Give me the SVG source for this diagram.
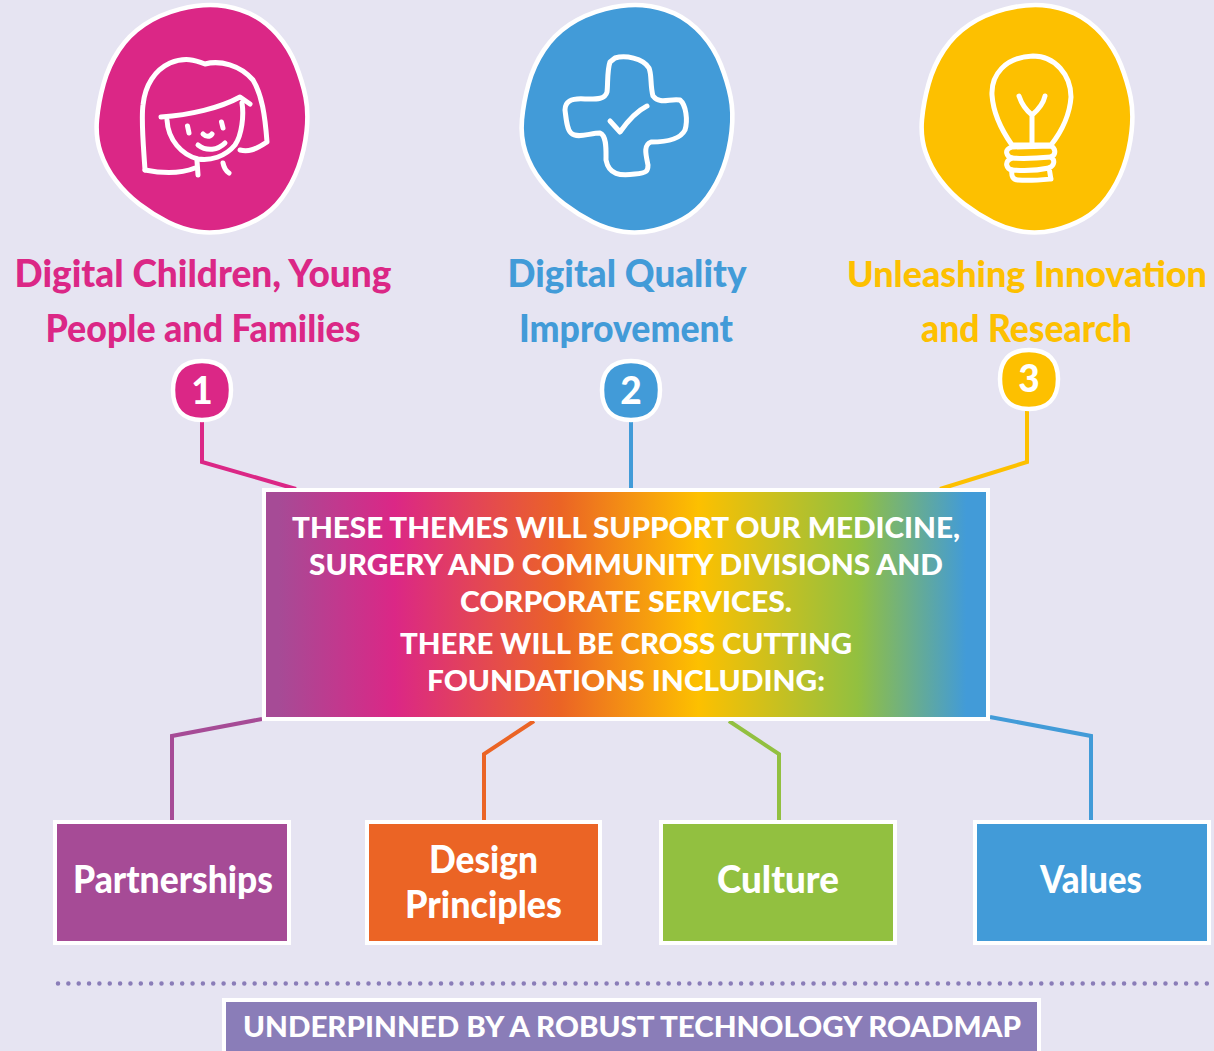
<svg xmlns="http://www.w3.org/2000/svg" width="1214" height="1051" viewBox="0 0 1214 1051">
<style>
.t{font-family:Lato,"Liberation Sans",sans-serif;font-weight:900;text-anchor:middle}
.h{font-size:37px}
.c{font-size:29px;fill:#fff}
.n{font-size:37px;fill:#fff}
.b{font-size:37px;fill:#fff}
.ic{fill:none;stroke:#fff;stroke-width:5;stroke-linecap:round;stroke-linejoin:round}
.con{fill:none;stroke-width:4}
.box{stroke:#fff;stroke-width:4}
.blob{stroke:#fff;stroke-width:4.500}
</style>
<defs>
<linearGradient id="g" x1="0" y1="0" x2="1" y2="0">
<stop offset="0.02" stop-color="#A64B96"/><stop offset="0.18" stop-color="#DB2786"/><stop offset="0.41" stop-color="#EB6425"/><stop offset="0.6" stop-color="#FDC000"/><stop offset="0.82" stop-color="#92C040"/><stop offset="0.97" stop-color="#429BD8"/>
</linearGradient>
<path id="blob" transform="translate(110.500,119.500) scale(1.02) translate(-110,-120)" d="M90,11.8Q110,6.7 126.500,8Q143,9.3 158,16Q173,23 185,36.500Q197,50 203.500,66.500Q210,83 213,98Q216,113 214,131.500Q212,150 206,166.500Q200,183 190,196.500Q180,210 166.500,217.500Q153,225 138,228.500Q123,232 108,230Q93,228 78,220.500Q63,213 50,203Q37,193 27,180Q17,167 12,152Q7,137 8.500,120Q10,103 15,85Q20,67 30,52Q40,37 55,27Q70,17 90,11.8Z"/>
<path id="badge" d="M0,-29 C20,-29 29,-18 29,0 C29,20 18,30 0,30 C-20,30 -29,18 -29,0 C-29,-18 -20,-29 0,-29Z"/>
</defs>
<rect width="1214" height="1051" fill="#E6E4F2"/>
<g id="connectors" class="con">
<path class="con" stroke="#DB2786" d="M202,422V462L296,489"/>
<path class="con" stroke="#429BD8" d="M631,422V488"/>
<path class="con" stroke="#FDC000" d="M1027,410V462L940,489"/>
<path class="con" stroke="#A64B96" d="M172,820V736L262,719"/>
<path class="con" stroke="#EB6425" d="M484,820V754L534,721"/>
<path class="con" stroke="#92C040" d="M779,820V754L729,721"/>
<path class="con" stroke="#429BD8" d="M1091,820V736L990,717"/>
</g>
<g id="theme1">
<use href="#blob" x="90" class="blob" fill="#DB2786"/>
<g transform="translate(90,0)" class="ic">
<path d="M55,170C53,140 51,120 53,105C55,85 65,70 80,63C95,57 105,60 115,64C130,60 150,65 163,80C172,95 175,115 177,142C165,150 158,152 150,150"/>
<path d="M55,170C75,174 90,174 105,168"/>
<path d="M71,117C100,115 130,108 150,97L160,104"/>
<path d="M77,120C78,140 92,155 108,159C120,161 135,157 145,145C152,135 154,115 152,103"/>
<path d="M97.500,126L99,133M131.500,122L133,128M113,134C116,137 120,137 122,134M108,145C117,152 128,150 135,143M107,161L108,175M133,163C134,168 136,171 139,173"/>
</g>
<text class="t h" x="203" y="287" fill="#DB2786" textLength="377" lengthAdjust="spacingAndGlyphs">Digital Children, Young</text>
<text class="t h" x="203" y="342" fill="#DB2786" textLength="315" lengthAdjust="spacingAndGlyphs">People and Families</text>
<use href="#badge" x="202" y="390" class="blob" fill="#DB2786"/>
<text class="t n" x="202" y="404">1</text>
</g>
<g id="theme2">
<use href="#blob" x="515" class="blob" fill="#429BD8"/>
<g transform="translate(515,0)" class="ic">
<path d="M95,62C92,70 93,85 92,92C90,100 80,99 70,99C55,98 50,102 50,110C51,118 52,130 56,133C62,139 75,133 85,133C92,136 91,150 91,160C94,175 105,176 120,174C132,173 133,171 133,165C131,155 128,145 136,142C150,142 165,140 170,130C173,120 171,105 165,100C155,98 145,105 138,96C135,85 137,75 134,68C128,58 110,55 100,58Z"/>
<path d="M95,121L105,132C112,122 120,112 132,106"/>
</g>
<text class="t h" x="627" y="287" fill="#429BD8" textLength="239" lengthAdjust="spacingAndGlyphs">Digital Quality</text>
<text class="t h" x="626" y="342" fill="#429BD8" textLength="214" lengthAdjust="spacingAndGlyphs">Improvement</text>
<use href="#badge" x="631" y="390" class="blob" fill="#429BD8"/>
<text class="t n" x="631" y="404">2</text>
</g>
<g id="theme3">
<use href="#blob" x="915" class="blob" fill="#FDC000"/>
<g transform="translate(915,0)" class="ic">
<path d="M97,145C85,128 78,110 77,95C76,75 90,57 118,56C140,56 156,75 156,97C155,112 148,130 136,145Z"/>
<path d="M104,96C107,105 112,111 117,115C123,110 128,105 130,96M117,115V145"/>
<path d="M97,147C88,150 92,157 97,158C88,162 92,169 97,170C96,176 98,180 103,180C115,181 125,180 136,179C135,175 135,172 134,168C140,165 140,160 136,157C142,154 140,148 136,146Z"/>
<path d="M97,158C110,159 125,158 136,157M97,170C110,171 125,170 134,168"/>
</g>
<text class="t" font-size="36" x="1027" y="287" fill="#FDC000" textLength="360" lengthAdjust="spacingAndGlyphs">Unleashing Innovation</text>
<text class="t h" x="1026.500" y="342" fill="#FDC000" textLength="211" lengthAdjust="spacingAndGlyphs">and Research</text>
<use href="#badge" x="1029" y="379" class="blob" fill="#FDC000"/>
<text class="t n" x="1029" y="392">3</text>
</g>
<g id="central">
<rect class="box" x="264" y="490" width="724" height="229" fill="url(#g)"/>
<text class="t c" x="626" y="538" textLength="668" lengthAdjust="spacingAndGlyphs">THESE THEMES WILL SUPPORT OUR MEDICINE,</text>
<text class="t c" x="626" y="575" textLength="634" lengthAdjust="spacingAndGlyphs">SURGERY AND COMMUNITY DIVISIONS AND</text>
<text class="t c" x="626" y="612" textLength="332" lengthAdjust="spacingAndGlyphs">CORPORATE SERVICES.</text>
<text class="t c" x="626" y="654" textLength="452" lengthAdjust="spacingAndGlyphs">THERE WILL BE CROSS CUTTING</text>
<text class="t c" x="626" y="691" textLength="398" lengthAdjust="spacingAndGlyphs">FOUNDATIONS INCLUDING:</text>
</g>
<g id="partnerships"><rect class="box" x="55" y="822" width="234" height="121" fill="#A64B96"/><text class="t b" x="173" y="893" textLength="200" lengthAdjust="spacingAndGlyphs">Partnerships</text></g>
<g id="design"><rect class="box" x="367" y="822" width="233" height="121" fill="#EB6425"/><text class="t b" x="483.500" y="873" textLength="109" lengthAdjust="spacingAndGlyphs">Design</text><text class="t b" x="483.500" y="918" textLength="157" lengthAdjust="spacingAndGlyphs">Principles</text></g>
<g id="culture"><rect class="box" x="661" y="822" width="234" height="121" fill="#92C040"/><text class="t b" x="778" y="893" textLength="122" lengthAdjust="spacingAndGlyphs">Culture</text></g>
<g id="values"><rect class="box" x="975" y="822" width="234" height="121" fill="#429BD8"/><text class="t b" x="1091" y="893" textLength="102" lengthAdjust="spacingAndGlyphs">Values</text></g>
<line x1="58" y1="983.500" x2="1214" y2="983.500" stroke="#8A7DB8" stroke-width="4.500" stroke-linecap="round" stroke-dasharray="0 10.350"/>
<g id="roadmap"><rect class="box" x="224" y="1000" width="815" height="60" fill="#8A7DB8"/><text class="t c" x="632" y="1037" textLength="778" lengthAdjust="spacingAndGlyphs">UNDERPINNED BY A ROBUST TECHNOLOGY ROADMAP</text></g>
</svg>
